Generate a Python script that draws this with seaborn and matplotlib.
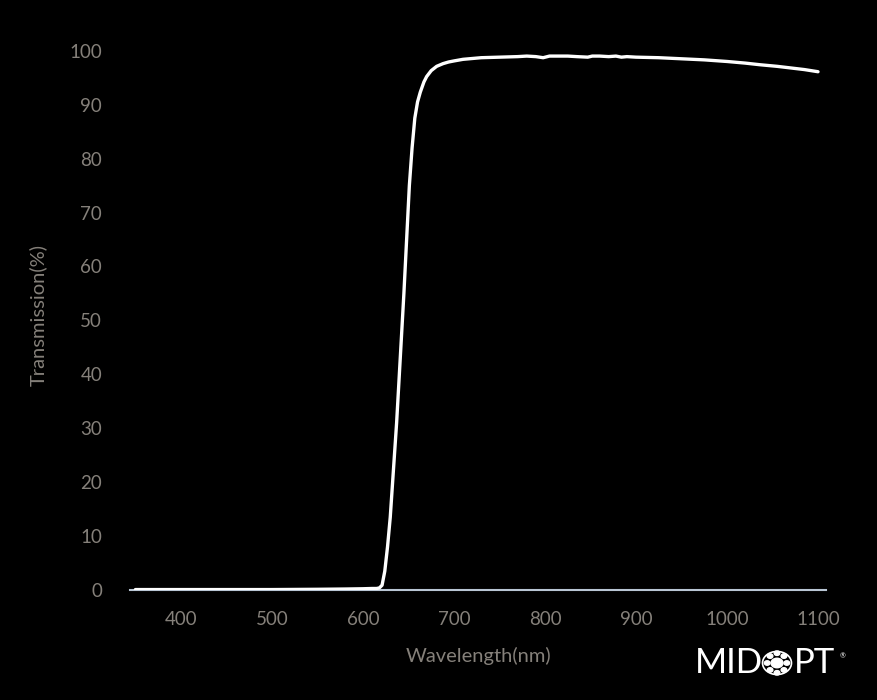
import numpy as np
import pandas as pd
import seaborn as sns
import matplotlib.pyplot as plt
from matplotlib.patches import Circle

# Transmission curve
wavelength = [350, 400, 450, 500, 550, 580, 600, 610, 615, 618, 621, 624, 627, 630, 633,
              637, 641, 645, 648, 651, 654, 657, 660, 663, 667, 670, 675, 681, 688, 694,
              700, 710, 730, 750, 770, 780, 790, 798, 805, 815, 825, 835, 847, 852, 860,
              870, 878, 884, 890, 900, 925, 950, 975, 1000, 1020, 1036, 1055, 1070, 1085, 1100]
transmission = [0.1, 0.1, 0.1, 0.1, 0.15, 0.2, 0.25, 0.3, 0.3, 0.4, 0.9, 3.5, 8, 13.5, 21,
                31, 43, 55, 65, 75, 82, 87.5, 90.5, 92.3, 94.2, 95.2, 96.3, 97.1, 97.6, 97.9,
                98.1, 98.4, 98.7, 98.8, 98.9, 99.0, 98.9, 98.7, 99.0, 99.0, 99.0, 98.9, 98.8, 99.0,
                99.0, 98.9, 99.0, 98.8, 98.9, 98.8, 98.7, 98.5, 98.3, 98.0, 97.7, 97.4, 97.1, 96.8,
                96.5, 96.1]

x_ticks = [400, 500, 600, 700, 800, 900, 1000, 1100]
y_ticks = [0, 10, 20, 30, 40, 50, 60, 70, 80, 90, 100]

data = pd.DataFrame({'Wavelength': wavelength, 'Transmission': transmission})

sns.set_theme(style='dark', rc={'axes.facecolor': 'black', 'figure.facecolor': 'black'})
plt.rcParams['font.family'] = ['Lato', 'DejaVu Sans']

label_grey = '#85807a'
axis_col = '#b9c6d4'

fig = plt.figure(figsize=(8.78, 7), dpi=100)
ax = fig.add_axes([0.148, 0.157, 0.793, 0.786])

sns.lineplot(x='Wavelength', y='Transmission', data=data, color='white', linewidth=2.4, ax=ax)

ax.set_xlim(344, 1109)
ax.set_ylim(0, 102)
ax.set_xticks(x_ticks)
ax.set_yticks(y_ticks)
ax.grid(False)

for side in ['top', 'right', 'left']:
    ax.spines[side].set_visible(False)
ax.spines['bottom'].set_color(axis_col)
ax.spines['bottom'].set_linewidth(1.5)
ax.spines['bottom'].set_zorder(1)

ax.tick_params(axis='x', colors=axis_col, length=7, width=1.5, pad=8, labelsize=13.5, labelcolor=label_grey)
ax.tick_params(axis='y', length=0, pad=20, labelsize=13.5, labelcolor=label_grey)

ax.set_xlabel('Wavelength(nm)', color=label_grey, fontsize=14.5, labelpad=14)
ax.set_ylabel('Transmission(%)', color=label_grey, fontsize=14.5, labelpad=16)

# MIDOPT logo
fig.text(695 / 878, 0.053, 'MID', color='white', fontsize=25, ha='left', va='center')
fig.text(794 / 878, 0.053, 'PT', color='white', fontsize=25, ha='left', va='center')
fig.text(840 / 878, 1 - 656 / 700, '®', color='white', fontsize=5, ha='left', va='center')
cx, cy = 777 / 878, 1 - 663 / 700
fig.patches.append(Circle((cx, cy), 0.0165, transform=fig.transFigure, facecolor='none',
                          edgecolor='white', linewidth=1.2, figure=fig))
fig.patches.append(Circle((cx, cy), 0.0068, transform=fig.transFigure, color='white', figure=fig))
for a in np.arange(0, 360, 45):
    r = np.deg2rad(a)
    fig.patches.append(Circle((cx + 0.0112 * np.cos(r), cy + 0.0140 * np.sin(r)), 0.0032,
                              transform=fig.transFigure, color='white', figure=fig))

plt.savefig('out.png', dpi=100, facecolor='black')
